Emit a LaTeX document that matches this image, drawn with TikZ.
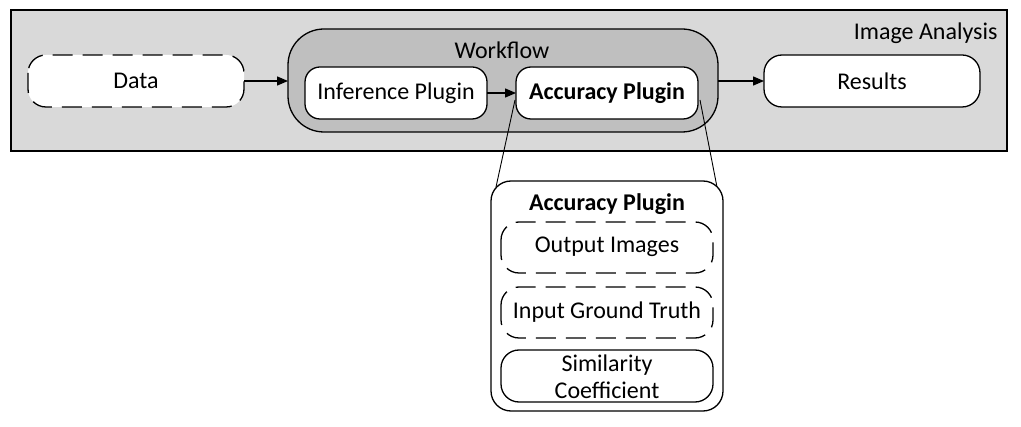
\documentclass[tikz,border=0pt]{standalone}
\usepackage{fontspec}
\setmainfont{Carlito}
\usetikzlibrary{arrows.meta}
\begin{document}
\begin{tikzpicture}[x=1pt,y=-1pt,
  lw/.style={line width=1.3pt},
  txt/.style={font=\fontsize{24}{28}\selectfont},
  box/.style={lw,draw=black,fill=white,rounded corners=#1},
  dsh/.style={dash pattern=on 20pt off 10pt},
  arr/.style={lw,-{Triangle[length=11pt,width=9pt]}},
  thin/.style={line width=0.9pt}]
\useasboundingbox (0,0) rectangle (1021,427);
% outer
\draw[lw,fill={rgb,255:red,217;green,217;blue,217}] (11,10) rectangle (1007,151);
\node[txt,anchor=east] (ia) at (1001,33) {Image Analysis};
% workflow
\draw[lw,fill={rgb,255:red,191;green,191;blue,191},rounded corners=36pt] (288,29) rectangle (718,132);
\coordinate (wfl) at (288,81);
\coordinate (wfr) at (718,81);
\node[txt] (wf) at (502,50) {Workflow};
% inner boxes
\draw[box=15pt] (305,67) rectangle (487,119);
\node[txt] (inf) at (396,93) {Inference Plugin};
\coordinate (infr) at (487,93);
\draw[box=15pt] (516,67) rectangle (698,119);
\node[txt] (acc) at (607,93) {\bfseries Accuracy Plugin};
\coordinate (accl) at (516,93);
% data & results
\draw[box=18pt,dsh] (28,55) rectangle (244,107);
\node[txt] (data) at (136,81) {Data};
\coordinate (datar) at (244,81);
\draw[box=18pt] (764,55) rectangle (980,107);
\node[txt] (res) at (872,81) {Results};
\coordinate (resl) at (764,81);
% arrows
\draw[arr] (datar) -- (wfl);
\draw[arr] (infr) -- (accl);
\draw[arr] (wfr) -- (resl);
% zoom lines
\coordinate (z1a) at (515,100);
\coordinate (z1b) at (496,187);
\coordinate (z2a) at (700,100);
\coordinate (z2b) at (717,187);
\draw[thin] (z1a) -- (z1b);
\draw[thin] (z2a) -- (z2b);
% lower box
\draw[box=20pt] (491,181) rectangle (723,411);
\node[txt] (acc2) at (607,204) {\bfseries Accuracy Plugin};
\draw[box=18pt,dsh] (501,222) rectangle (713,273);
\node[txt] (oi) at (607,247) {Output Images};
\draw[box=18pt,dsh] (501,287) rectangle (713,338);
\node[txt] (igt) at (607,312) {Input Ground Truth};
\draw[box=18pt] (501,350) rectangle (713,402);
\node[txt,align=center,inner sep=0pt] (sc) at (607,377) {Similarity\\[-1pt]Coefficient};
\end{tikzpicture}
\end{document}
